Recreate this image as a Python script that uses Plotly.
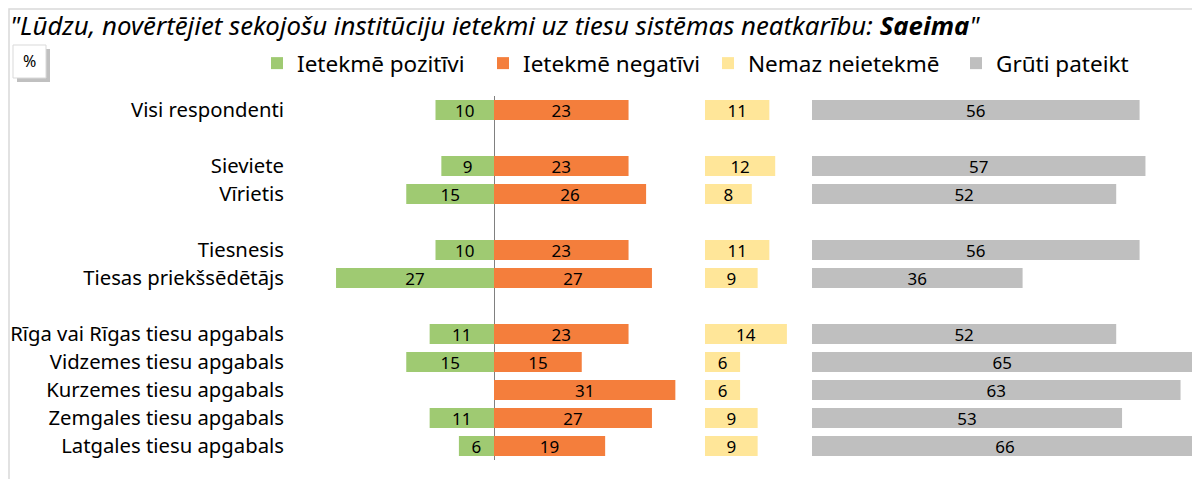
import plotly.graph_objects as go

# dati
kategorijas = ["Visi respondenti", "Sieviete", "Vīrietis", "Tiesnesis", "Tiesas priekšsēdētājs",
               "Rīga vai Rīgas tiesu apgabals", "Vidzemes tiesu apgabals", "Kurzemes tiesu apgabals",
               "Zemgales tiesu apgabals", "Latgales tiesu apgabals"]
grupas = [1, 2, 2, 3, 3, 4, 4, 4, 4, 4]  # tukša rinda starp grupām

pozitivi = [10, 9, 15, 10, 27, 11, 15, 0, 11, 6]
negativi = [23, 23, 26, 23, 27, 23, 15, 31, 27, 19]
nemaz = [11, 12, 8, 11, 9, 14, 6, 6, 9, 9]
gruti = [56, 57, 52, 56, 36, 52, 65, 63, 53, 66]

nosaukumi = ["Ietekmē pozitīvi", "Ietekmē negatīvi", "Nemaz neietekmē", "Grūti pateikt"]
krasas = ["#9FCA72", "#F47E3C", "#FFE699", "#BFBFBF"]

# y kategoriju secība ar tukšām rindām
y_kartiba = []
for i, k in enumerate(kategorijas):
    if i > 0 and grupas[i] != grupas[i - 1]:
        y_kartiba.append(" " * grupas[i])
    y_kartiba.append(k)

W, H = 1200, 479
OFF = 8  # lapas body atkāpe
ML = 285 - OFF
MT = 96 - OFF
MB = H - (460 - OFF)
PLOT_W = W - ML
PLOT_H = H - MT - MB
PX = 5.85  # pikseļi uz vienu procentu
fonts = "Noto Sans"


def px_x(a):  # ekrāna pikselis -> paper
    return (a - OFF - ML) / PLOT_W


def px_y(b):
    return (H - MB - (b - OFF)) / PLOT_H


def dom(a, b):
    return [max(px_x(a), 0), min(px_x(b), 1)]


def teksts(v):
    return [str(x) if x else "" for x in v]


fig = go.Figure()
asis = ["x", "x", "x2", "x3"]
vertibas = [[-v for v in pozitivi], negativi, nemaz, gruti]
etiketes = [pozitivi, negativi, nemaz, gruti]
leg_platums = [181, 180, 203, 150]
for i in range(4):
    fig.add_trace(go.Bar(y=kategorijas, x=vertibas[i], orientation="h", name=nosaukumi[i],
                         marker=dict(color=krasas[i], line=dict(width=0)),
                         text=teksts(etiketes[i]), textposition="inside", textangle=0,
                         insidetextanchor="middle", textfont=dict(color="black", size=17, family=fonts),
                         xaxis=asis[i], yaxis="y", legendwidth=leg_platums[i], hoverinfo="x+y+name"))

nulle = 494
kreisa = ML + OFF
laba = W + OFF
fig.update_layout(
    width=W, height=H,
    margin=dict(l=ML, r=0, t=MT, b=MB, autoexpand=False),
    plot_bgcolor="white", paper_bgcolor="white",
    barmode="relative", bargap=0.29,
    font=dict(family=fonts, color="black"),
    uniformtext=dict(minsize=17, mode="show"),
    title=dict(text='<i>"Lūdzu, novērtējiet sekojošu institūciju ietekmi uz tiesu sistēmas neatkarību: <b>Saeima</b>"</i>',
               x=(10 - OFF) / W, xref="container", xanchor="left",
               y=1 - (26 - OFF) / H, yref="container", yanchor="middle",
               font=dict(size=25.8, family=fonts, color="black")),
    xaxis=dict(domain=dom(kreisa, 690), range=[-(nulle - kreisa) / PX, (690 - nulle) / PX],
               showgrid=False, zeroline=True, zerolinecolor="#808080", zerolinewidth=1,
               showticklabels=False),
    xaxis2=dict(domain=dom(705, 805), range=[0, 100 / PX], anchor="y",
                showgrid=False, zeroline=False, showticklabels=False),
    xaxis3=dict(domain=dom(812, laba), range=[0, (laba - 812) / PX], anchor="y",
                showgrid=False, zeroline=False, showticklabels=False),
    yaxis=dict(categoryorder="array", categoryarray=y_kartiba, range=[len(y_kartiba) - 0.5, -0.5],
               showgrid=False, zeroline=False, ticks="", tickfont=dict(size=20.3, color="black")),
    legend=dict(orientation="h", x=px_x(257), xanchor="left", y=px_y(42), yanchor="top",
                font=dict(size=22.5, color="black"), traceorder="normal"),
    showlegend=True,
)

# rāmis
fig.add_shape(type="rect", xref="paper", yref="paper",
              x0=px_x(9), x1=px_x(1230), y0=px_y(500), y1=px_y(9),
              line=dict(color="#D9D9D9", width=1.5), fillcolor="rgba(0,0,0,0)", layer="above")

# "%" lodziņš ar ēnu
fig.add_shape(type="rect", xref="paper", yref="paper",
              x0=px_x(17), x1=px_x(50), y0=px_y(82), y1=px_y(49),
              line=dict(width=0), fillcolor="#C0C0C0")
fig.add_shape(type="rect", xref="paper", yref="paper",
              x0=px_x(13), x1=px_x(46), y0=px_y(78), y1=px_y(45),
              line=dict(color="#D9D9D9", width=1), fillcolor="white")
fig.add_annotation(text="%", xref="paper", yref="paper", showarrow=False,
                   x=px_x(29.5), y=px_y(61.5), xanchor="center", yanchor="middle",
                   font=dict(size=16, color="black"))

fig.write_html("out.html")
